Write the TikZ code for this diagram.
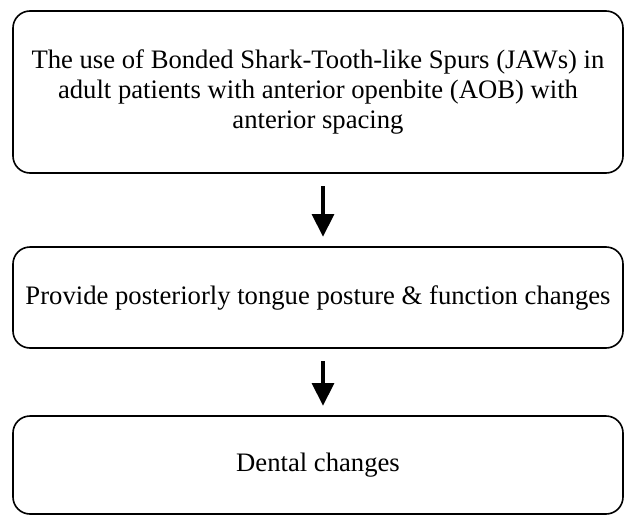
\documentclass[tikz,border=0pt]{standalone}
\usepackage{fontspec}
\setmainfont{Liberation Serif}
\usepackage{tikz}
\usetikzlibrary{arrows.meta}
\usetikzlibrary{positioning}
\tikzset{every picture/.style={line width=0.75pt}}
\tikzset{
  flowbox/.style={draw, rounded corners=12.75pt, line width=1.2pt, minimum width=457.5pt,
    align=center, inner sep=0pt, font=\fontsize{20}{22.5}\selectfont},
  flowarrow/.style={line width=3.6pt, -{Triangle[width=16pt,length=17pt]},
    shorten <=9.5pt, shorten >=7pt}
}

\begin{document}
\begin{tikzpicture}[x=0.75pt,y=0.75pt,yscale=-1,xscale=1]
\useasboundingbox (0,0) rectangle (624,514);

%Shape: Rounded Rect [id:use]
\node [flowbox, minimum height=121.5pt] (use) at (318,92)
  {The use of Bonded Shark-Tooth-like Spurs (JAWs) in\\
   adult patients with anterior openbite (AOB) with\\
   anterior spacing};
%Shape: Rounded Rect [id:tongue]
\node [flowbox, minimum height=75.75pt] (tongue) at (318,297.5)
  {Provide posteriorly tongue posture \& function changes};
%Shape: Rounded Rect [id:dental]
\node [flowbox, minimum height=73.5pt] (dental) at (318,465) {Dental changes};

%Straight Lines
\draw [flowarrow] ([xshift=3.75pt]use.south) -- ([xshift=3.75pt]tongue.north);
%Straight Lines
\draw [flowarrow] ([xshift=3.75pt]tongue.south) -- ([xshift=3.75pt]dental.north);

\end{tikzpicture}
\end{document}
